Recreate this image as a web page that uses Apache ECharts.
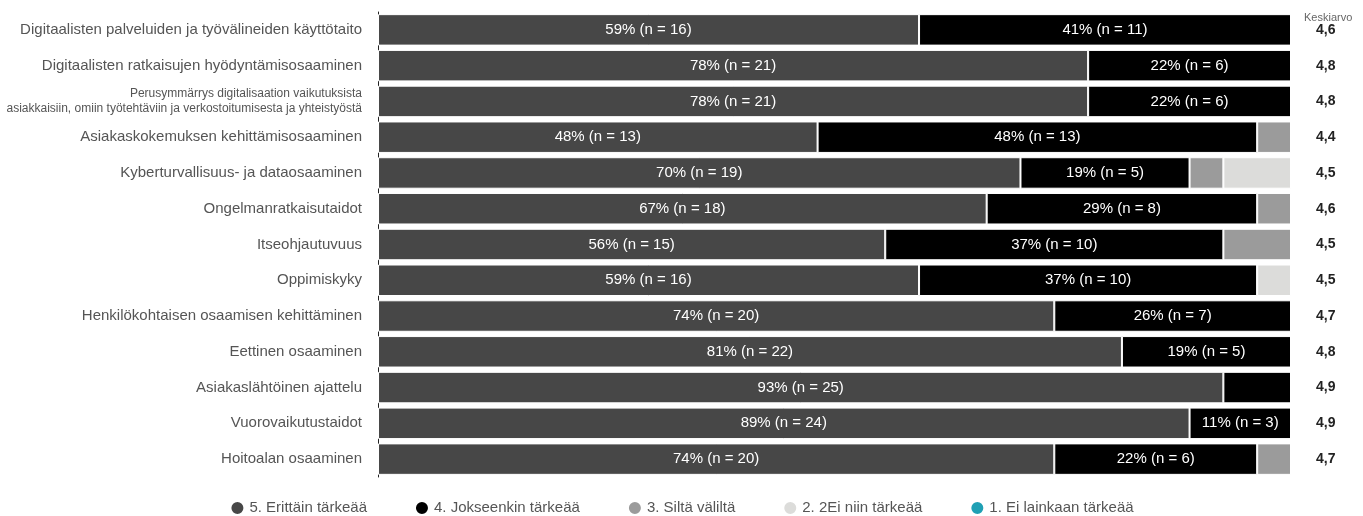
<!DOCTYPE html>
<html><head><meta charset="utf-8">
<script src="https://cdn.jsdelivr.net/npm/echarts@6/dist/echarts.min.js"></script>
<style>html,body{margin:0;padding:0;background:#fff}#c{width:1363px;height:516px}</style>
</head><body><div id="c"></div>
<script>
const categories = [
  "Digitaalisten palveluiden ja työvälineiden käyttötaito",
  "Digitaalisten ratkaisujen hyödyntämisosaaminen",
  "Perusymmärrys digitalisaation vaikutuksista\nasiakkaisiin, omiin työtehtäviin ja verkostoitumisesta ja yhteistyöstä",
  "Asiakaskokemuksen kehittämisosaaminen",
  "Kyberturvallisuus- ja dataosaaminen",
  "Ongelmanratkaisutaidot",
  "Itseohjautuvuus",
  "Oppimiskyky",
  "Henkilökohtaisen osaamisen kehittäminen",
  "Eettinen osaaminen",
  "Asiakaslähtöinen ajattelu",
  "Vuorovaikutustaidot",
  "Hoitoalan osaaminen"
];
const seriesNames = ["5. Erittäin tärkeää","4. Jokseenkin tärkeää","3. Siltä väliltä","2. 2Ei niin tärkeää","1. Ei lainkaan tärkeää"];
const s5 = [16,21,21,13,19,18,15,16,20,22,25,24,20];
const s4 = [11,6,6,13,5,8,10,10,7,5,2,3,6];
const s3 = [0,0,0,1,1,1,2,0,0,0,0,0,1];
const s2 = [0,0,0,0,2,0,0,1,0,0,0,0,0];
const s1 = [0,0,0,0,0,0,0,0,0,0,0,0,0];
const means = ["4,6","4,8","4,8","4,4","4,5","4,6","4,5","4,5","4,7","4,8","4,9","4,9","4,7"];
const colors = ["#474747","#000000","#9b9b9b","#dcdcda","#1fa0b4"];
const allData = [s5,s4,s3,s2,s1];

// percentages rounded with largest-remainder so each row sums to 100
const pct = categories.map((_,i)=>{
  const vals = allData.map(s=>s[i]);
  const tot = vals.reduce((a,b)=>a+b,0);
  const raw = vals.map(v=>v/tot*100);
  const fl = raw.map(Math.floor);
  let rest = 100 - fl.reduce((a,b)=>a+b,0);
  const order = raw.map((r,k)=>[r-fl[k],k]).sort((a,b)=>b[0]-a[0]);
  for(let j=0;j<rest;j++) fl[order[j][1]]++;
  return fl;
});

const chart = echarts.init(document.getElementById('c'));
const FONT = "'Liberation Sans', Arial, sans-serif";
chart.setOption({
  animation:false,
  textStyle:{fontFamily:FONT},
  title:{text:"Keskiarvo",left:1299,top:7,textStyle:{fontSize:11,fontWeight:'normal',color:'#666',fontFamily:FONT}},
  legend:{top:495,left:'center',icon:'circle',itemWidth:14,itemHeight:14,itemGap:47,
    textStyle:{fontSize:15,color:'#555',fontFamily:FONT},data:seriesNames},
  grid:{left:378,right:72,top:12,bottom:39},
  xAxis:{type:'value',min:0,max:27,show:false},
  yAxis:[{type:'category',data:categories,inverse:true,
    axisLine:{show:true,lineStyle:{color:'#222',width:1}},axisTick:{show:false},
    axisLabel:{margin:16,fontSize:15,color:'#555',fontFamily:FONT,
      formatter:(v,i)=> v.indexOf('\n')>=0 ? '{s|'+v+'}' : v,
      rich:{s:{fontSize:12,lineHeight:15,color:'#555',fontFamily:FONT,align:'right'}}}},
    {type:'category',data:means,inverse:true,position:'right',
    axisLine:{show:false},axisTick:{show:false},
    axisLabel:{margin:25,fontSize:14,fontWeight:'bold',color:'#222',fontFamily:FONT}}],
  series: allData.map((d,k)=>({
    name:seriesNames[k],type:'bar',stack:'t',barCategoryGap:'12%',
    data:d,itemStyle:{color:colors[k],borderColor:'#fff',borderWidth:1},
    label:{show:true,color:'#fff',fontSize:15,fontFamily:FONT,
      formatter:p=> p.value>=3 ? pct[p.dataIndex][k]+'% (n = '+p.value+')' : ''}
  }))
});
</script></body></html>
